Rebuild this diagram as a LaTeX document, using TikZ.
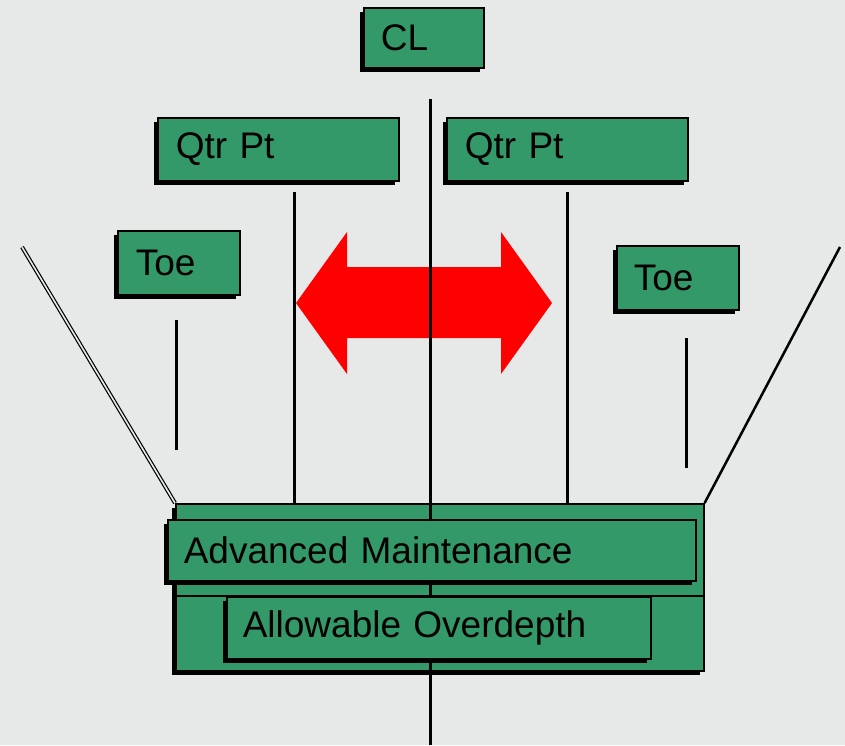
\documentclass[tikz,border=0pt]{standalone}
\usepackage{fontspec}
\setmainfont{Liberation Sans}
\usetikzlibrary{shadows}
\definecolor{bggrey}{RGB}{230,233,232}
\definecolor{boxgreen}{RGB}{52,153,104}
\definecolor{arrowred}{RGB}{255,0,0}
\newcommand{\myboxfont}{\fontsize{37}{44}\selectfont\spaceskip=7.5pt plus 2pt\relax}
\tikzset{
  greenbox/.style={draw=black, line width=1.6pt, fill=boxgreen,
    drop shadow={shadow xshift=-4pt, shadow yshift=-4pt, fill=black, opacity=1},
    anchor=north west, inner ysep=0pt, align=left,
    font=\myboxfont},
  markline/.style={draw=black, line width=3pt},
  slopeline/.style={draw=black, line width=2.5pt},
}
\begin{document}
\begin{tikzpicture}[x=1pt,y=-1pt]
\useasboundingbox (0,0) rectangle (845,745);
\fill[bggrey] (0,0) rectangle (845,745);

% label boxes
\node[greenbox, minimum width=120pt, minimum height=60pt, inner xsep=17pt, text width=86pt] (cl) at (363,7) {CL};
\node[greenbox, minimum width=241pt, minimum height=63pt, inner xsep=18pt, text width=205pt] (qtrL) at (157,117) {Qtr Pt};
\node[greenbox, minimum width=241pt, minimum height=63pt, inner xsep=18pt, text width=205pt] (qtrR) at (446,117) {Qtr Pt};
\node[greenbox, minimum width=122pt, minimum height=64pt, inner xsep=18pt, text width=86pt] (toeL) at (117,230) {Toe};
\node[greenbox, minimum width=122pt, minimum height=64pt, inner xsep=17pt, text width=88pt] (toeR) at (616,245) {Toe};

% channel box
\node[greenbox, minimum width=528pt, minimum height=167pt, text width=528pt, inner xsep=0pt] (chan) at (175,503) {};

% coordinates for line ends
\coordinate (slL) at (22,247);
\coordinate (slR) at (840,247);
\coordinate (toeLt) at (176,320);
\coordinate (toeLb) at (176,450);
\coordinate (toeRt) at (686,338);
\coordinate (toeRb) at (686,468);
\coordinate (qLt) at (294,192);
\coordinate (qRt) at (567,192);
\coordinate (clt) at (430,99);
\coordinate (clb) at (430,745);

% side slopes
\draw[line width=1.2pt, double=bggrey, double distance=1.6pt] (slL) -- (chan.north west);
\draw[slopeline] (slR) -- (chan.north east);

% toe lines
\draw[markline] (toeLt) -- (toeLb);
\draw[markline] (toeRt) -- (toeRb);

% quarter point lines
\draw[markline] (qLt) -- (qLt |- chan.north);
\draw[markline] (qRt) -- (qRt |- chan.north);

% red double arrow
\fill[arrowred] (296,303) -- (347,232) -- (347,267) -- (501,267) -- (501,232) -- (552,303)
  -- (501,374) -- (501,338) -- (347,338) -- (347,374) -- cycle;

% divider inside channel box
\draw[black, line width=1.6pt] ([yshift=-93pt]chan.north west) -- ([yshift=-93pt]chan.north east);

% centre line
\draw[markline] (clt) -- (clb);

% depth boxes
\node[greenbox, minimum width=528pt, minimum height=61pt, inner xsep=16pt, text width=496pt] (adv) at (167,519) {Advanced Maintenance};
\node[greenbox, minimum width=424pt, minimum height=62pt, inner xsep=16pt, text width=392pt] (allow) at (226,596) {Allowable Overdepth};
\end{tikzpicture}
\end{document}
